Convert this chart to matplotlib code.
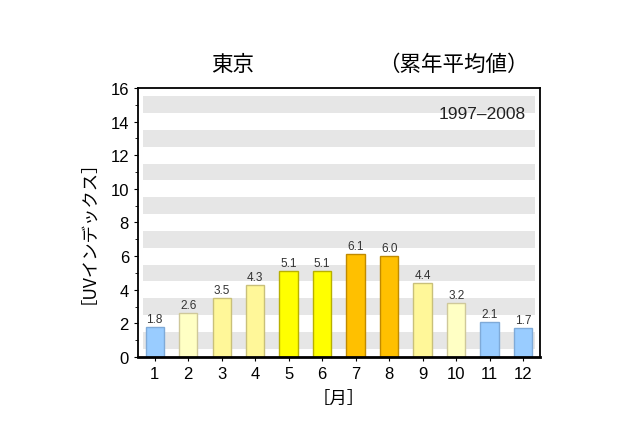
import numpy as np
import matplotlib
matplotlib.use("Agg")
import matplotlib.pyplot as plt

plt.rcParams['font.family'] = ['Liberation Sans', 'Noto Sans CJK JP', 'DejaVu Sans']

months = [1, 2, 3, 4, 5, 6, 7, 8, 9, 10, 11, 12]
uv_index = [1.8, 2.6, 3.5, 4.3, 5.1, 5.1, 6.1, 6.0, 4.4, 3.2, 2.1, 1.7]
# colour class per month (0 blue, 1 pale, 2 light yellow, 3 yellow, 4 orange)
level = [0, 1, 2, 2, 3, 3, 4, 4, 2, 1, 0, 0]
fills = ['#99CCFF', '#FFFFC4', '#FFF799', '#FFFF00', '#FFC000']
edges = ['#7FAAD8', '#CFC89A', '#C9C07A', '#B8B000', '#C08A00']

fig = plt.figure(figsize=(6.4, 4.27), dpi=100)
ax = fig.add_axes([0.2156, 0.1616, 0.628, 0.63])

# grey background stripes
for lo in np.arange(0.5, 16, 2):
    ax.axhspan(lo, lo + 1, xmin=0.012, xmax=0.988, color='#E6E6E6', lw=0, zorder=0)

ax.bar(months, uv_index, width=0.55,
       color=[fills[k] for k in level],
       edgecolor=[edges[k] for k in level], linewidth=1, zorder=2)

for m, v in zip(months, uv_index):
    ax.text(m, v + 0.12, f'{v:.1f}', ha='center', va='bottom', fontsize=8.5,
            color='#333333', zorder=3)

ax.set_xlim(0.5, 12.5)
ax.set_ylim(0, 16)
ax.set_xticks(months)
ax.set_yticks(np.arange(0, 17, 2))
ax.set_yticks(np.arange(1, 16, 2), minor=True)
ax.tick_params(axis='both', which='major', labelsize=12, direction='out', length=3, width=0.8)
ax.tick_params(axis='y', which='minor', direction='out', length=2, width=0.6)
ax.tick_params(axis='x', which='minor', bottom=False)

for s in ax.spines.values():
    s.set_linewidth(1.3)
ax.spines['bottom'].set_linewidth(2)

ax.text(0.965, 0.905, '1997–2008', transform=ax.transAxes, ha='right', va='center',
        fontsize=12.5, color='#222222')

ax.set_ylabel('［UVインデックス］', fontsize=12.5, labelpad=16,
              family=['Noto Sans CJK JP'])
ax.set_xlabel('［月］', fontsize=12.5, labelpad=6, family=['Noto Sans CJK JP'])

fig.text(0.364, 0.848, '東京', ha='center', va='center', fontsize=15.5,
         family=['Noto Sans CJK JP'])
fig.text(0.708, 0.848, '（累年平均値）', ha='center', va='center', fontsize=15.5,
         family=['Noto Sans CJK JP'])

fig.savefig('out.png', dpi=100)
